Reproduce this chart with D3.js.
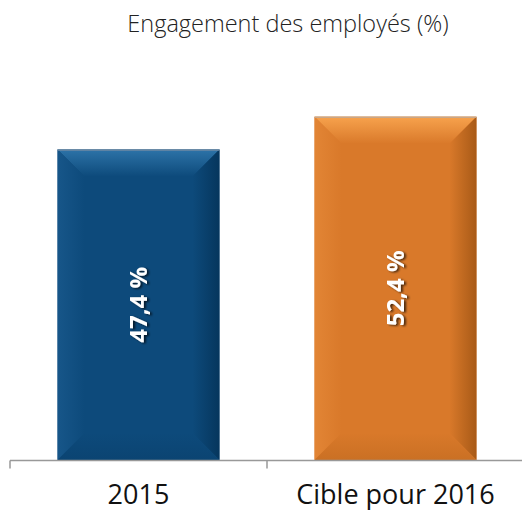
<!DOCTYPE html>
<html>
<head>
<meta charset="utf-8">
<script src="https://cdn.jsdelivr.net/npm/d3@7"></script>
<style>
  body { margin: 0; background: #fff; }
  svg { display: block; }
</style>
</head>
<body>
<div id="chart"></div>
<script>
'use strict';

// data
var categories = ["2015", "Cible pour 2016"];
var values = [47.4, 52.4];
var valueLabels = ["47,4 %", "52,4 %"];
var title = "Engagement des employés (%)";

var barColors = [
    {base: "#0d4a7b", light: "#2d73a8", dark: "#06365d", edge: "#6f8aa3"},
    {base: "#d9792a", light: "#f7a24d", dark: "#a85a17", edge: "#c8a78a"}
];

var W = 522, H = 510;
var bevel = 27;

var svg = d3.select("#chart").append("svg")
    .attr("width", W)
    .attr("height", H);

var defs = svg.append("defs");

var x = d3.scaleBand()
    .domain(categories)
    .range([10, 524])
    .paddingInner(0.37)
    .paddingOuter(0.185);

var y = d3.scaleLinear()
    .domain([0, 60])
    .range([460, 67]);

// gradients for each bar
barColors.forEach(function(c, i) {
    var gTop = defs.append("linearGradient").attr("id", "top" + i)
        .attr("x1", 0).attr("y1", 0).attr("x2", 0).attr("y2", 1);
    gTop.append("stop").attr("offset", "0%").attr("stop-color", c.light);
    gTop.append("stop").attr("offset", "100%").attr("stop-color", c.base);

    var gRight = defs.append("linearGradient").attr("id", "right" + i)
        .attr("x1", 0).attr("y1", 0).attr("x2", 1).attr("y2", 0);
    gRight.append("stop").attr("offset", "0%").attr("stop-color", c.base);
    gRight.append("stop").attr("offset", "100%").attr("stop-color", c.dark);

    var gLeft = defs.append("linearGradient").attr("id", "left" + i)
        .attr("x1", 0).attr("y1", 0).attr("x2", 1).attr("y2", 0);
    gLeft.append("stop").attr("offset", "0%").attr("stop-color", d3.interpolateRgb(c.base, c.light)(0.3));
    gLeft.append("stop").attr("offset", "100%").attr("stop-color", c.base);

    var gBot = defs.append("linearGradient").attr("id", "bot" + i)
        .attr("x1", 0).attr("y1", 0).attr("x2", 0).attr("y2", 1);
    gBot.append("stop").attr("offset", "0%").attr("stop-color", c.base);
    gBot.append("stop").attr("offset", "100%").attr("stop-color", d3.interpolateRgb(c.base, c.dark)(0.3));
});

var shadow = defs.append("filter").attr("id", "txtShadow")
    .attr("x", "-20%").attr("y", "-20%").attr("width", "140%").attr("height", "140%");
shadow.append("feDropShadow")
    .attr("dx", 2).attr("dy", 1)
    .attr("stdDeviation", 1.2)
    .attr("flood-color", "#000")
    .attr("flood-opacity", 0.7);

// title
svg.append("text")
    .attr("x", 288)
    .attr("y", 32)
    .attr("text-anchor", "middle")
    .attr("font-family", "'Open Sans', sans-serif")
    .attr("font-weight", 300)
    .attr("font-size", 23.5)
    .attr("fill", "#222")
    .text(title);

// bars
var bars = svg.selectAll(".bar")
    .data(values)
    .enter().append("g")
    .attr("class", "bar");

bars.each(function(v, i) {
    var g = d3.select(this);
    var x0 = x(categories[i]), x1 = x0 + x.bandwidth();
    var y0 = y(v), y1 = y(0);
    var b = bevel;

    g.append("rect")
        .attr("x", x0).attr("y", y0)
        .attr("width", x.bandwidth()).attr("height", y1 - y0)
        .attr("fill", barColors[i].base);

    // top bevel
    g.append("path")
        .attr("d", "M" + x0 + "," + y0 + "L" + x1 + "," + y0 + "L" + (x1 - b) + "," + (y0 + b) +
            "L" + (x0 + b) + "," + (y0 + b) + "Z")
        .attr("fill", "url(#top" + i + ")");
    // left bevel
    g.append("path")
        .attr("d", "M" + x0 + "," + y0 + "L" + (x0 + b) + "," + (y0 + b) + "L" + (x0 + b) + "," + (y1 - b) +
            "L" + x0 + "," + y1 + "Z")
        .attr("fill", "url(#left" + i + ")");
    // right bevel
    g.append("path")
        .attr("d", "M" + x1 + "," + y0 + "L" + (x1 - b) + "," + (y0 + b) + "L" + (x1 - b) + "," + (y1 - b) +
            "L" + x1 + "," + y1 + "Z")
        .attr("fill", "url(#right" + i + ")");
    // bottom bevel
    g.append("path")
        .attr("d", "M" + x0 + "," + y1 + "L" + (x0 + b) + "," + (y1 - b) + "L" + (x1 - b) + "," + (y1 - b) +
            "L" + x1 + "," + y1 + "Z")
        .attr("fill", "url(#bot" + i + ")");

    // thin top edge
    g.append("line")
        .attr("x1", x0).attr("x2", x1)
        .attr("y1", y0 + 0.5).attr("y2", y0 + 0.5)
        .attr("stroke", barColors[i].edge)
        .attr("stroke-width", 1.5);

    // value label
    var cx = x0 + x.bandwidth() / 2, cy = (y0 + y1) / 2;
    g.append("g")
        .attr("filter", "url(#txtShadow)")
        .append("text")
        .attr("transform", "translate(" + (cx + 8) + "," + cy + ") rotate(-90)")
        .attr("text-anchor", "middle")
        .attr("font-family", "'Open Sans', sans-serif")
        .attr("font-weight", 700)
        .attr("font-size", 24)
        .attr("fill", "#fff")
        .text(valueLabels[i]);
});

// x axis
var axis = svg.append("g")
    .attr("transform", "translate(0,460.5)");

axis.append("line")
    .attr("x1", 10).attr("x2", W)
    .attr("stroke", "#999").attr("stroke-width", 1.5);

axis.selectAll(".tick")
    .data([10, 267])
    .enter().append("line")
    .attr("class", "tick")
    .attr("x1", function(d) { return d; })
    .attr("x2", function(d) { return d; })
    .attr("y1", 0).attr("y2", 8)
    .attr("stroke", "#999").attr("stroke-width", 1.5);

axis.selectAll(".cat")
    .data(categories)
    .enter().append("text")
    .attr("class", "cat")
    .attr("x", function(d) { return x(d) + x.bandwidth() / 2; })
    .attr("y", 43)
    .attr("text-anchor", "middle")
    .attr("font-family", "'Open Sans', sans-serif")
    .attr("font-size", 27)
    .attr("fill", "#111")
    .text(function(d) { return d; });
</script>
</body>
</html>
